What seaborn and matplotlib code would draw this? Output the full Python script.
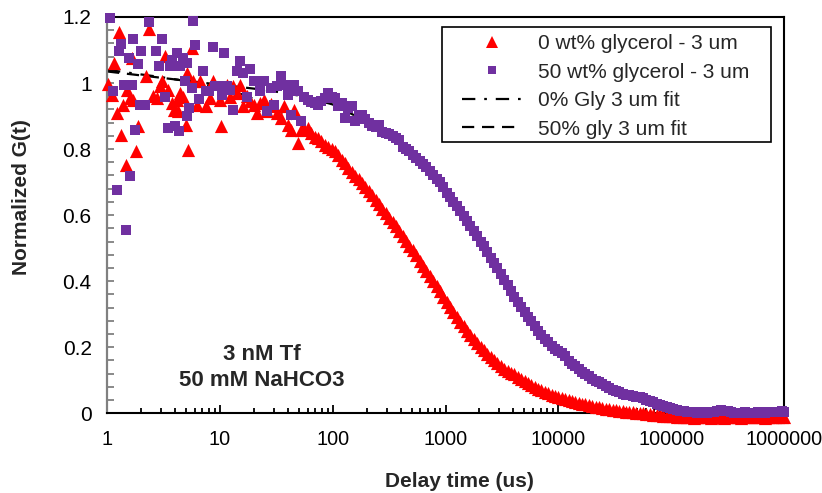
import numpy as np
import pandas as pd
import matplotlib
matplotlib.use("Agg")
import matplotlib.pyplot as plt
from matplotlib.lines import Line2D
from matplotlib.patches import Rectangle
from matplotlib.ticker import (FixedLocator, FixedFormatter, MultipleLocator,
                               LogLocator, NullFormatter)
import seaborn as sns

sns.set_style("white")
plt.rcParams["font.family"] = ["Liberation Sans", "DejaVu Sans"]

# ---- FCS autocorrelation data (delay time in microseconds) ----
# noisy short-lag region, 0 wt% glycerol
early_lag_red = [1.03, 1.10, 1.15, 1.22, 1.28, 1.33, 1.39, 1.47, 1.51, 1.60,
                 1.68, 1.71, 1.80, 1.90, 2.20, 2.36, 2.54, 2.76, 2.95, 3.10,
                 3.26, 3.50, 3.74, 3.92, 4.15, 4.29, 4.44, 4.75, 4.99, 5.15,
                 5.27, 5.63, 5.82, 6.24, 6.68, 7.50, 8.20, 8.77, 10.0, 10.2,
                 11.5]
early_red = [0.998, 0.965, 1.060, 0.909, 1.153, 0.843, 0.934, 0.752, 0.980, 0.955,
             1.076, 0.949, 0.793, 0.869, 1.020, 1.164, 0.962, 0.954, 0.990, 1.005,
             1.081, 0.980, 0.939, 0.919, 0.949, 0.914, 0.970, 0.959, 0.874, 1.030,
             0.798, 1.106, 1.005, 0.934, 1.005, 0.929, 0.955, 1.005, 0.949, 0.869,
             0.995]

# noisy short-lag region, 50 wt% glycerol
early_lag_purple = [1.06, 1.14, 1.22, 1.28, 1.32, 1.40, 1.47, 1.55, 1.60, 1.66,
                    1.69, 1.77, 1.87, 1.96, 1.99, 2.17, 2.36, 2.72, 2.89, 3.05,
                    3.26, 3.50, 3.62, 3.74, 4.00, 4.15, 4.35, 4.44, 4.69, 4.92,
                    5.15, 5.16, 5.37, 5.63, 5.75, 6.03, 6.54, 7.05, 7.53, 8.07,
                    8.65, 9.05, 9.70, 10.4, 10.8, 11.5]
early_purple = [1.197, 0.975, 0.675, 1.096, 1.119, 0.995, 0.555, 1.076, 0.717, 0.995,
                1.134, 0.858, 1.058, 0.934, 1.096, 0.934, 1.184, 1.096, 1.050, 1.134,
                0.958, 0.864, 1.050, 1.071, 0.869, 1.090, 0.856, 1.050, 1.076, 1.005,
                1.060, 0.901, 0.924, 0.985, 1.189, 1.116, 0.952, 1.035, 0.975, 0.975,
                1.109, 0.992, 0.992, 0.965, 1.090, 0.990]

# shared correlator lag channels beyond the noisy region
lag_us = [12.3, 13.2, 14.1, 15.1, 16.2, 17.4, 18.6, 20.0, 21.4, 22.9,
          24.5, 26.3, 28.2, 30.2, 32.4, 34.7, 37.2, 39.8, 42.7, 45.7,
          49.0, 52.5, 56.2, 60.3, 64.6, 69.2, 74.1, 79.4, 85.1, 91.2,
          97.7, 105, 112, 120, 129, 138, 148, 158, 170, 182,
          195, 209, 224, 240, 257, 275, 295, 316, 339, 363,
          389, 417, 447, 479, 513, 550, 589, 631, 676, 724,
          776, 832, 891, 955, 1023, 1096, 1175, 1259, 1349, 1445,
          1549, 1660, 1778, 1905, 2042, 2188, 2344, 2512, 2692, 2884,
          3090, 3311, 3548, 3802, 4074, 4365, 4677, 5012, 5370, 5754,
          6166, 6607, 7079, 7586, 8128, 8710, 9333, 10000, 10715, 11482,
          12303, 13183, 14125, 15136, 16218, 17378, 18621, 19953, 21380, 22909,
          24547, 26303, 28184, 30200, 32359, 34674, 37154, 39811, 42658, 45709,
          48978, 52481, 56234, 60256, 64565, 69183, 74131, 79433, 85114, 91201,
          97724, 104713, 112202, 120226, 128825, 138038, 147911, 158489, 169824, 181970,
          194984, 208930, 223872, 239883, 257040, 275423, 295121, 316228, 338844, 363078,
          389045, 416869, 446684, 478630, 512861, 549541, 588844, 630957, 676083, 724436,
          776247, 831764, 891251, 954993, 1000000]

red_g = [0.959, 0.990, 0.970, 0.995, 0.929, 0.960, 0.945, 0.934, 0.909, 0.939,
         0.949, 0.914, 0.935, 0.929, 0.909, 0.894, 0.929, 0.874, 0.858, 0.919,
         0.818, 0.858, 0.862, 0.864, 0.848, 0.838, 0.833, 0.823, 0.813, 0.806,
         0.800, 0.793, 0.782, 0.768, 0.758, 0.742, 0.730, 0.718, 0.710, 0.697,
         0.684, 0.672, 0.660, 0.646, 0.633, 0.620, 0.607, 0.592, 0.580, 0.566,
         0.552, 0.538, 0.522, 0.508, 0.494, 0.478, 0.462, 0.447, 0.432, 0.416,
         0.400, 0.384, 0.369, 0.352, 0.336, 0.321, 0.306, 0.292, 0.277, 0.264,
         0.250, 0.238, 0.226, 0.214, 0.202, 0.191, 0.180, 0.170, 0.160, 0.151,
         0.143, 0.135, 0.128, 0.123, 0.118, 0.110, 0.103, 0.097, 0.092, 0.086,
         0.080, 0.074, 0.070, 0.065, 0.061, 0.056, 0.052, 0.049, 0.046, 0.043,
         0.040, 0.037, 0.034, 0.031, 0.029, 0.027, 0.024, 0.022, 0.020, 0.018,
         0.016, 0.014, 0.012, 0.010, 0.009, 0.008, 0.007, 0.005, 0.004, 0.003,
         0.002, 0.001, 0.000, -0.002, -0.003, -0.004, -0.005, -0.006, -0.007, -0.008,
         -0.008, -0.009, -0.010, -0.011, -0.012, -0.011, -0.012, -0.013, -0.011, -0.012,
         -0.012, -0.011, -0.013, -0.012, -0.011, -0.012, -0.013, -0.012, -0.011, -0.012,
         -0.012, -0.013, -0.012, -0.011, -0.012, -0.012, -0.012, -0.011, -0.013, -0.012,
         -0.012, -0.011, -0.012, -0.012, -0.012]

purple_g = [0.980, 0.919, 1.035, 1.068, 1.030, 0.959, 1.042, 1.005, 1.005, 0.975,
            1.005, 0.914, 0.985, 0.934, 0.990, 1.020, 0.995, 0.965, 0.904, 0.995,
            0.975, 0.884, 0.959, 0.950, 0.944, 0.940, 0.934, 0.945, 0.955, 0.970,
            0.959, 0.955, 0.929, 0.940, 0.894, 0.925, 0.929, 0.885, 0.900, 0.904,
            0.890, 0.879, 0.870, 0.866, 0.874, 0.853, 0.850, 0.845, 0.840, 0.833,
            0.826, 0.805, 0.800, 0.793, 0.783, 0.773, 0.765, 0.755, 0.745, 0.733,
            0.722, 0.710, 0.700, 0.684, 0.668, 0.654, 0.640, 0.628, 0.612, 0.596,
            0.582, 0.568, 0.553, 0.538, 0.520, 0.505, 0.488, 0.470, 0.455, 0.440,
            0.422, 0.405, 0.388, 0.370, 0.353, 0.338, 0.322, 0.306, 0.292, 0.278,
            0.264, 0.250, 0.238, 0.226, 0.215, 0.205, 0.196, 0.190, 0.183, 0.172,
            0.158, 0.150, 0.142, 0.134, 0.126, 0.120, 0.112, 0.104, 0.099, 0.094,
            0.088, 0.082, 0.076, 0.071, 0.067, 0.063, 0.059, 0.056, 0.054, 0.052,
            0.050, 0.048, 0.045, 0.041, 0.037, 0.033, 0.029, 0.025, 0.021, 0.018,
            0.015, 0.012, 0.010, 0.008, 0.007, 0.005, 0.004, 0.003, 0.002, 0.003,
            0.004, 0.002, 0.003, 0.005, 0.007, 0.009, 0.008, 0.006, 0.004, 0.002,
            0.001, 0.002, 0.003, 0.002, 0.001, 0.002, 0.003, 0.003, 0.002, 0.004,
            0.003, 0.004, 0.005, 0.006, 0.005]

# diffusion-model fits
fit_lag = [1, 1.5, 2, 3, 5, 7, 10, 15, 20, 30, 50, 70, 100, 150, 200, 300,
           500, 700, 1000, 1500, 2000, 3000, 5000, 7000, 10000, 20000, 50000,
           100000, 1000000]
red_fit = [1.040, 1.032, 1.026, 1.018, 1.006, 0.997, 0.985, 0.968, 0.952, 0.925,
           0.878, 0.840, 0.790, 0.730, 0.683, 0.612, 0.500, 0.420, 0.335, 0.260,
           0.205, 0.145, 0.095, 0.070, 0.048, 0.021, 0.003, -0.006, -0.011]
purple_fit = [1.035, 1.028, 1.023, 1.016, 1.007, 1.001, 0.995, 0.988, 0.983, 0.975,
              0.962, 0.950, 0.935, 0.905, 0.880, 0.846, 0.790, 0.735, 0.672, 0.595,
              0.525, 0.430, 0.305, 0.240, 0.190, 0.100, 0.045, 0.014, 0.004]

series_labels = ["0 wt% glycerol - 3 um", "50 wt% glycerol - 3 um",
                 "0% Gly 3 um fit", "50% gly 3 um fit"]
x_ticks = [1, 10, 100, 1000, 10000, 100000, 1000000]
x_tick_labels = ["1", "10", "100", "1000", "10000", "100000", "1000000"]
y_ticks = [0, 0.2, 0.4, 0.6, 0.8, 1.0, 1.2]
y_tick_labels = ["0", "0.2", "0.4", "0.6", "0.8", "1", "1.2"]

RED = "#FF0000"
PURPLE = "#7030A0"
DASHDOT = (0, (6, 4, 1.2, 4))
DASHED = (0, (5.5, 3.5))

red_df = pd.DataFrame({"lag": early_lag_red + lag_us, "g": early_red + red_g})
purple_df = pd.DataFrame({"lag": early_lag_purple + lag_us, "g": early_purple + purple_g})
fit_df = pd.DataFrame({"lag": fit_lag, "red_fit": red_fit, "purple_fit": purple_fit})

fig = plt.figure(figsize=(8.22, 4.93), dpi=100)
ax = fig.add_axes([0.1302, 0.1617, 0.8236, 0.8039])

# fit curves sit underneath the markers
sns.lineplot(data=fit_df, x="lag", y="red_fit", ax=ax, color="black", lw=1.6,
             linestyle=DASHDOT, estimator=None, sort=False, zorder=1)
sns.lineplot(data=fit_df, x="lag", y="purple_fit", ax=ax, color="black", lw=1.6,
             linestyle=DASHED, estimator=None, sort=False, zorder=1)

sns.scatterplot(data=red_df, x="lag", y="g", ax=ax, marker="^", s=90, color=RED,
                linewidth=0, clip_on=False, zorder=3)
sns.scatterplot(data=purple_df, x="lag", y="g", ax=ax, marker="s", s=50, color=PURPLE,
                linewidth=0, clip_on=False, zorder=4)

ax.set_xscale("log")
ax.set_xlim(1, 1000000)
ax.set_ylim(0, 1.2)

ax.xaxis.set_major_locator(FixedLocator(x_ticks))
ax.xaxis.set_major_formatter(FixedFormatter(x_tick_labels))
ax.xaxis.set_minor_locator(LogLocator(base=10, subs=np.arange(2, 10)))
ax.xaxis.set_minor_formatter(NullFormatter())
ax.yaxis.set_major_locator(FixedLocator(y_ticks))
ax.yaxis.set_major_formatter(FixedFormatter(y_tick_labels))
ax.yaxis.set_minor_locator(MultipleLocator(0.04))

ax.tick_params(axis="x", which="major", bottom=True, direction="in", length=6,
               width=1.3, color="black", pad=12, labelsize=14.3, labelcolor="black")
ax.tick_params(axis="x", which="minor", bottom=True, direction="in", length=3.5,
               width=1.3, color="black")
ax.tick_params(axis="y", which="both", left=True, direction="in", length=5,
               width=1.3, color="#808080", labelsize=15, labelcolor="black")
ax.tick_params(axis="y", which="major", pad=11)

for side in ["top", "right", "bottom"]:
    ax.spines[side].set_color("black")
    ax.spines[side].set_linewidth(1.5)
ax.spines["left"].set_color("#808080")
ax.spines["left"].set_linewidth(1.6)

ax.set_xlabel("Delay time (us)", fontsize=15, fontweight="bold")
ax.set_ylabel("Normalized G(t)", fontsize=15, fontweight="bold")
ax.xaxis.set_label_coords(0.52, -0.148)
ax.yaxis.set_label_coords(-0.112, 0.546)

ax.text(0.229, 0.116, "3 nM Tf\n50 mM NaHCO3", transform=ax.transAxes,
        ha="center", va="center", fontsize=16, fontweight="bold",
        linespacing=1.35, multialignment="center")

# legend with a square black frame
ax.add_patch(Rectangle((0.4948, 0.685), 0.486, 0.2904, transform=ax.transAxes,
                       facecolor="white", edgecolor="black", lw=1.2,
                       zorder=5, clip_on=False))
handles = [
    Line2D([], [], ls="none", marker="^", ms=8, color=RED, mew=0),
    Line2D([], [], ls="none", marker="s", ms=6, color=PURPLE, mew=0),
    Line2D([], [], color="black", lw=1.6, ls=DASHDOT),
    Line2D([], [], color="black", lw=1.6, ls=DASHED),
]
leg = ax.legend(handles, series_labels, loc="upper left",
                bbox_to_anchor=(0.524, 0.956), frameon=False, fontsize=15,
                handlelength=2.9, handletextpad=0.75, labelspacing=0.45,
                borderpad=0, borderaxespad=0, numpoints=1)
leg.set_zorder(6)

fig.savefig("out.png", dpi=100)
